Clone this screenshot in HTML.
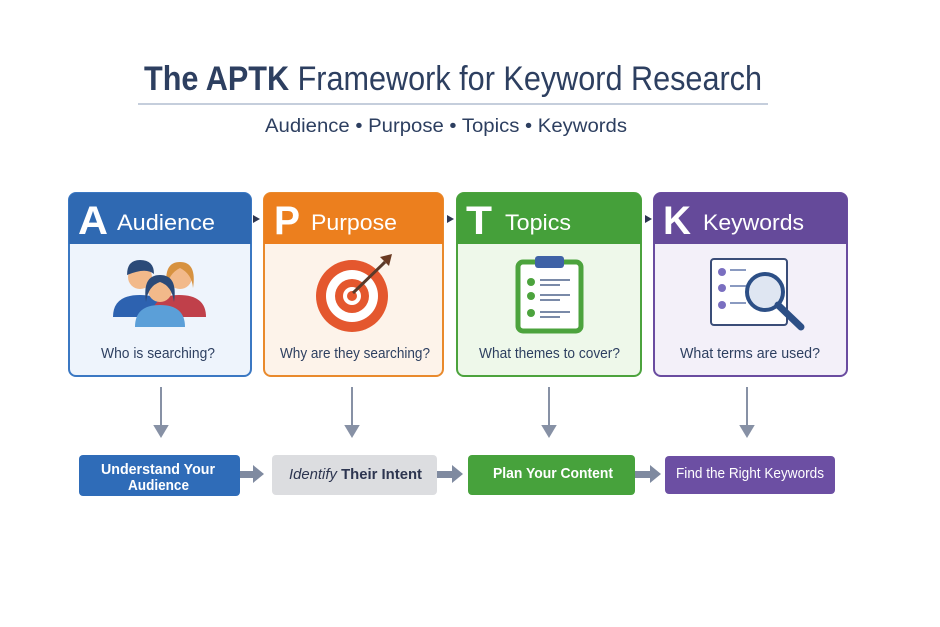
<!DOCTYPE html>
<html><head><meta charset="utf-8"><style>
html,body{margin:0;padding:0;background:#fff;}
svg{display:block;font-family:"Liberation Sans",sans-serif;}
</style></head><body>
<svg width="940" height="627" viewBox="0 0 940 627" xmlns="http://www.w3.org/2000/svg">
<rect width="940" height="627" fill="#fff"/>
<text x="144" y="90" font-size="34" fill="#2d3f60" textLength="618" lengthAdjust="spacingAndGlyphs"><tspan font-weight="bold">The APTK</tspan> Framework for Keyword Research</text>
<line x1="138" y1="104" x2="768" y2="104" stroke="#c5cedc" stroke-width="2"/>
<text x="265" y="132" font-size="19" fill="#2d3f60" textLength="362" lengthAdjust="spacingAndGlyphs">Audience • Purpose • Topics • Keywords</text>

<g>
<rect x="69" y="193" width="182" height="183" rx="7" fill="#eef4fc" stroke="#3b78c3" stroke-width="2"/>
<path d="M69 244 V200 a7 7 0 0 1 7 -7 H244 a7 7 0 0 1 7 7 V244 Z" fill="#2f69b2"/>
<text x="78" y="234" font-size="40" font-weight="bold" fill="#fff" textLength="30" lengthAdjust="spacingAndGlyphs">A</text>
<text x="117" y="230" font-size="22" fill="#fff" textLength="98" lengthAdjust="spacingAndGlyphs">Audience</text>
<path d="M113 317 q0 -22 27 -22 q27 0 27 22z" fill="#2d62b0"/>
<circle cx="140" cy="277" r="12" fill="#f2b98a"/>
<path d="M127 275 q0 -15 13 -15 q14 0 14 14 q-8 -7 -27 1z" fill="#2b4a78"/>
<path d="M152 317 q0 -22 27 -22 q27 0 27 22z" fill="#c0404a"/>
<circle cx="180" cy="277" r="12" fill="#f2b98a"/>
<path d="M167 288 q-4 -26 13 -26 q17 0 13 26 q-1 -14 -13 -20 q-12 6 -13 20z" fill="#d79240"/>
<path d="M135 327 q0 -22 25 -22 q25 0 25 22z" fill="#5b9fd8"/>
<circle cx="160" cy="290" r="12" fill="#f2b98a"/>
<path d="M146 302 q-4 -27 14 -27 q18 0 14 27 q-2 -16 -14 -20 q-12 4 -14 20z" fill="#2b4a78"/>
<text x="101" y="358" font-size="15" fill="#2d3f60" textLength="114" lengthAdjust="spacingAndGlyphs">Who is searching?</text>
</g>

<g>
<rect x="264" y="193" width="179" height="183" rx="7" fill="#fdf3ea" stroke="#e98a2d" stroke-width="2"/>
<path d="M264 244 V200 a7 7 0 0 1 7 -7 H436 a7 7 0 0 1 7 7 V244 Z" fill="#ec7f1e"/>
<text x="274" y="234" font-size="40" font-weight="bold" fill="#fff" textLength="26" lengthAdjust="spacingAndGlyphs">P</text>
<text x="311" y="230" font-size="22" fill="#fff" textLength="86" lengthAdjust="spacingAndGlyphs">Purpose</text>
<circle cx="352" cy="296" r="36" fill="#e4572e"/>
<circle cx="352" cy="296" r="26" fill="#fff"/>
<circle cx="352" cy="296" r="17" fill="#e4572e"/>
<circle cx="352" cy="296" r="9" fill="#fff"/>
<circle cx="352" cy="296" r="5" fill="#e4572e"/>
<line x1="353" y1="293" x2="385" y2="262" stroke="#5a3a2a" stroke-width="3"/>
<path d="M380 257 l12 -3 l-3 12 z" fill="#6b3a22"/>
<text x="280" y="358" font-size="15" fill="#2d3f60" textLength="150" lengthAdjust="spacingAndGlyphs">Why are they searching?</text>
</g>

<g>
<rect x="457" y="193" width="184" height="183" rx="7" fill="#eef8ea" stroke="#4ca33d" stroke-width="2"/>
<path d="M457 244 V200 a7 7 0 0 1 7 -7 H634 a7 7 0 0 1 7 7 V244 Z" fill="#45a03a"/>
<text x="466" y="234" font-size="40" font-weight="bold" fill="#fff" textLength="26" lengthAdjust="spacingAndGlyphs">T</text>
<text x="505" y="230" font-size="22" fill="#fff" textLength="66" lengthAdjust="spacingAndGlyphs">Topics</text>
<rect x="518" y="262" width="63" height="69" rx="5" fill="#fff" stroke="#4ca33d" stroke-width="5"/>
<rect x="535" y="256" width="29" height="12" rx="3" fill="#3f62a6"/>
<g fill="#4ca33d"><circle cx="531" cy="282" r="4"/><circle cx="531" cy="296" r="4"/><circle cx="531" cy="313" r="4"/></g>
<g stroke="#7a8aa8" stroke-width="2"><line x1="540" y1="280" x2="570" y2="280"/><line x1="540" y1="285" x2="560" y2="285"/><line x1="540" y1="295" x2="570" y2="295"/><line x1="540" y1="300" x2="560" y2="300"/><line x1="540" y1="312" x2="570" y2="312"/><line x1="540" y1="317" x2="560" y2="317"/></g>
<text x="479" y="358" font-size="15" fill="#2d3f60" textLength="141" lengthAdjust="spacingAndGlyphs">What themes to cover?</text>
</g>

<g>
<rect x="654" y="193" width="193" height="183" rx="7" fill="#f3f0f9" stroke="#6a4ca0" stroke-width="2"/>
<path d="M654 244 V200 a7 7 0 0 1 7 -7 H840 a7 7 0 0 1 7 7 V244 Z" fill="#654a9a"/>
<text x="663" y="234" font-size="40" font-weight="bold" fill="#fff" textLength="28" lengthAdjust="spacingAndGlyphs">K</text>
<text x="703" y="230" font-size="22" fill="#fff" textLength="101" lengthAdjust="spacingAndGlyphs">Keywords</text>
<rect x="711" y="259" width="76" height="66" rx="3" fill="#fff" stroke="#3a4d78" stroke-width="2"/>
<g fill="#7a6fc0"><circle cx="722" cy="272" r="4"/><circle cx="722" cy="288" r="4"/><circle cx="722" cy="305" r="4"/></g>
<g stroke="#8a9ac0" stroke-width="2"><line x1="730" y1="270" x2="746" y2="270"/><line x1="730" y1="286" x2="746" y2="286"/><line x1="730" y1="303" x2="746" y2="303"/></g>
<circle cx="765" cy="292" r="18" fill="#dfe6f2" stroke="#2c4f86" stroke-width="4"/>
<line x1="778" y1="305" x2="801" y2="327" stroke="#2c4f86" stroke-width="7" stroke-linecap="round"/>
<text x="680" y="358" font-size="15" fill="#2d3f60" textLength="140" lengthAdjust="spacingAndGlyphs">What terms are used?</text>
</g>

<g fill="#2d3550">
<path d="M253 215 l7 4 l-7 4z"/><path d="M447 215 l7 4 l-7 4z"/><path d="M645 215 l7 4 l-7 4z"/>
</g>

<g stroke="#8791a5" stroke-width="2" fill="#8791a5">
<line x1="161" y1="387" x2="161" y2="428"/><path d="M155 426 h12 l-6 10z"/>
<line x1="352" y1="387" x2="352" y2="428"/><path d="M346 426 h12 l-6 10z"/>
<line x1="549" y1="387" x2="549" y2="428"/><path d="M543 426 h12 l-6 10z"/>
<line x1="747" y1="387" x2="747" y2="428"/><path d="M741 426 h12 l-6 10z"/>
</g>

<rect x="79" y="455" width="161" height="41" rx="4" fill="#2f6cb8"/>
<text x="101" y="474" font-size="15" font-weight="bold" fill="#fff" textLength="114" lengthAdjust="spacingAndGlyphs">Understand Your</text>
<text x="128" y="490" font-size="15" font-weight="bold" fill="#fff" textLength="61" lengthAdjust="spacingAndGlyphs">Audience</text>
<rect x="272" y="455" width="165" height="40" rx="4" fill="#dcdde0"/>
<text x="289" y="479" font-size="15" fill="#2d3550" textLength="133" lengthAdjust="spacingAndGlyphs"><tspan font-style="italic">Identify</tspan> <tspan font-weight="bold">Their Intent</tspan></text>
<rect x="468" y="455" width="167" height="40" rx="4" fill="#47a23c"/>
<text x="493" y="478" font-size="15" font-weight="bold" fill="#fff" textLength="120" lengthAdjust="spacingAndGlyphs">Plan Your Content</text>
<rect x="665" y="456" width="170" height="38" rx="4" fill="#6c4fa3"/>
<text x="676" y="478" font-size="15" fill="#fff" textLength="148" lengthAdjust="spacingAndGlyphs">Find the Right Keywords</text>

<g fill="#7f8aa0">
<rect x="240" y="471" width="14" height="7"/><path d="M253 465 l11 9 l-11 9z"/>
<rect x="437" y="471" width="16" height="7"/><path d="M452 465 l11 9 l-11 9z"/>
<rect x="635" y="471" width="16" height="7"/><path d="M650 465 l11 9 l-11 9z"/>
</g>
</svg>
</body></html>
